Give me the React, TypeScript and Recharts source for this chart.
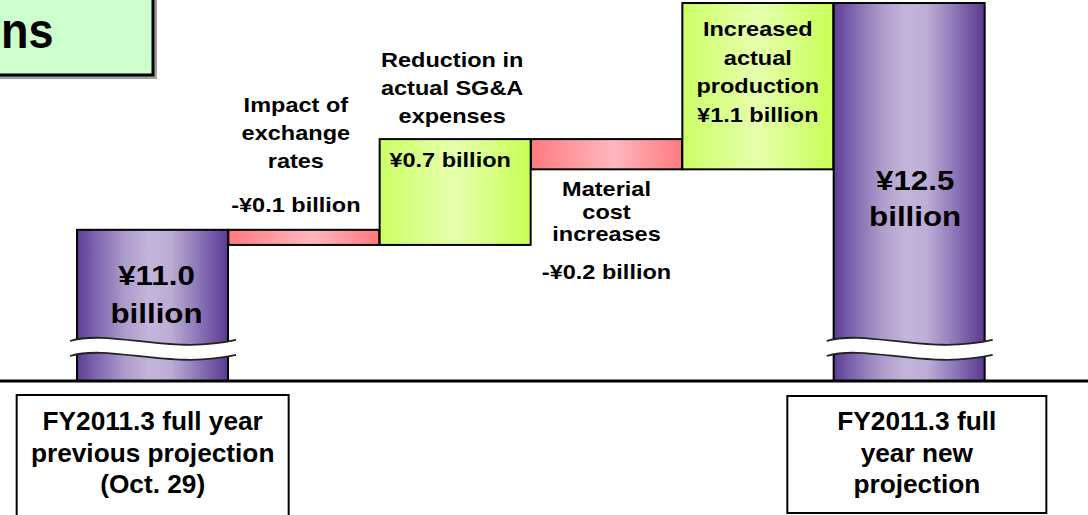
import React from 'react';
import { BarChart, Bar, XAxis, YAxis } from 'recharts';

// ---------- data ----------
const categories = ['prev', 'fx', 'sga', 'material', 'production', 'new'];
const changes = [11.0, -0.1, 0.7, -0.2, 1.1, 12.5];
const isTotal = [true, false, false, false, false, true];
const insideLabels: string[][] = [
  ['¥11.0', 'billion'],
  [],
  ['¥0.7 billion'],
  [],
  ['Increased', 'actual', 'production', '¥1.1 billion'],
  ['¥12.5', 'billion'],
];
const factorNames: string[][] = [
  [],
  ['Impact of', 'exchange', 'rates'],
  ['Reduction in', 'actual SG&A', 'expenses'],
  ['Material', 'cost', 'increases'],
  [],
  [],
];
const factorValues = ['', '-¥0.1 billion', '', '-¥0.2 billion', '', ''];
const tickLabels: string[][] = [
  ['FY2011.3 full year', 'previous projection', '(Oct. 29)'],
  [],
  [],
  [],
  [],
  ['FY2011.3 full', 'year new', 'projection'],
];
const titleTail = 'ns';
const AXIS_MIN = 10;
const AXIS_MAX = 12.52;
const BREAK_AT = 10.215;

type Row = { key: string; idx: number; range: [number, number] };
const rows: Row[] = (() => {
  let running = 0;
  return categories.map((key, i) => {
    let low: number;
    let high: number;
    if (isTotal[i]) {
      low = AXIS_MIN;
      high = changes[i];
      running = changes[i];
    } else {
      const start = running;
      const end = Math.round((running + changes[i]) * 100) / 100;
      low = Math.min(start, end);
      high = Math.max(start, end);
      running = end;
    }
    return { key, idx: i, range: [low, high] as [number, number] };
  });
})();

// ---------- styles ----------
const FONT = '"Liberation Sans", Arial, Helvetica, sans-serif';

const purpleStops: [number, string][] = [
  [0, '#5d3d95'], [0.12, '#7c64ae'], [0.32, '#ae9ccb'], [0.48, '#c3b5da'],
  [0.62, '#bcadd5'], [0.8, '#8d77b8'], [1, '#5a3a92'],
];
const pinkStops: [number, string][] = [[0, '#ff7a7e'], [0.55, '#ffb7bf'], [1, '#ff7a7e']];
const greenStops: [number, string][] = [[0, '#ccff66'], [0.5, '#e6ffad'], [1, '#c8ff55']];

type InsideStyle = { dy: number; lh: number; dx: number; size: number; sx: number } | null;
const insideStyle: InsideStyle[] = [
  { dy: 55, lh: 38, dx: 4, size: 27, sx: 1.16 },
  null,
  { dy: 28, lh: 28, dx: -5, size: 21, sx: 1.12 },
  null,
  { dy: 33, lh: 28.7, dx: 0, size: 21, sx: 1.12 },
  { dy: 187, lh: 36, dx: 6, size: 27, sx: 1.16 },
];
type FactorStyle = { side: 'top' | 'bottom'; dy: number; lh: number; dx: number; valueDy: number } | null;
const factorStyle: FactorStyle[] = [
  null,
  { side: 'top', dy: -118, lh: 28, dx: -8, valueDy: -18 },
  { side: 'top', dy: -72, lh: 28, dx: -3, valueDy: 0 },
  { side: 'bottom', dy: 27, lh: 22.5, dx: 0, valueDy: 110 },
  null,
  null,
];
const tickBoxStyle = [
  { dx: 0, w: 272, top: 14, h: 130 },
  null, null, null, null,
  { dx: 7.5, w: 259, top: 15, h: 117 },
];

function TextLines({ cx, y, lh, lines, size, sx }: { cx: number; y: number; lh: number; lines: string[]; size: number; sx: number }) {
  return (
    <g>
      {lines.map((t, i) => (
        <text
          key={i}
          transform={`translate(${cx},${y + i * lh}) scale(${sx},1)`}
          x={0}
          y={0}
          textAnchor="middle"
          fontFamily={FONT}
          fontWeight="bold"
          fontSize={size}
          fill="#000"
        >
          {t}
        </text>
      ))}
    </g>
  );
}

const WaterfallShape = (props: any) => {
  const { x, y, width, height, payload } = props;
  const idx: number = payload.idx;
  const [low, high] = payload.range as [number, number];
  const top = Math.min(y, y + height);
  const h = Math.abs(height);
  const bottom = top + h;
  const w = width;
  const cx = x + w / 2;
  const gid = `wf-grad-${idx}`;
  const stops = isTotal[idx] ? purpleStops : changes[idx] < 0 ? pinkStops : greenStops;

  let wave = null;
  if (isTotal[idx] && high > low) {
    const ppu = h / (high - low);
    const c = bottom - (BREAK_AT - low) * ppu;
    const pts = (o: number) => ({
      p0: [x - 7, c - 7.5 + o],
      p1: [x + 0.22 * w, c - 19.5 + o],
      p2: [x + 0.62 * w, c + 6.5 + o],
      p3: [x + w + 8, c - 8.5 + o],
    });
    const t = pts(0);
    const b = pts(15);
    const fill = `M${t.p0} C${t.p1} ${t.p2} ${t.p3} L${b.p3} C${b.p2} ${b.p1} ${b.p0} Z`;
    const topLine = `M${t.p0} C${t.p1} ${t.p2} ${t.p3}`;
    const botLine = `M${b.p0} C${b.p1} ${b.p2} ${b.p3}`;
    wave = (
      <g>
        <path d={fill} fill="#fff" stroke="none" />
        <path d={topLine} fill="none" stroke="#222" strokeWidth={1.8} />
        <path d={botLine} fill="none" stroke="#222" strokeWidth={1.8} />
      </g>
    );
  }

  const ins = insideStyle[idx];
  const fac = factorStyle[idx];
  return (
    <g>
      <defs>
        <linearGradient id={gid} x1="0" y1="0" x2="1" y2="0">
          {stops.map(([o, col], i) => (
            <stop key={i} offset={o} stopColor={col} />
          ))}
        </linearGradient>
      </defs>
      <rect x={x} y={top} width={w} height={h} fill={`url(#${gid})`} stroke="#000" strokeWidth={2} />
      {wave}
      {ins && insideLabels[idx].length > 0 && (
        <TextLines cx={cx + ins.dx} y={top + ins.dy} lh={ins.lh} lines={insideLabels[idx]} size={ins.size} sx={ins.sx} />
      )}
      {fac && (
        <TextLines
          cx={cx + fac.dx}
          y={(fac.side === 'top' ? top : bottom) + fac.dy}
          lh={fac.lh}
          lines={factorNames[idx]}
          size={21}
          sx={1.12}
        />
      )}
      {fac && factorValues[idx] && (
        <TextLines
          cx={cx + fac.dx}
          y={(fac.side === 'top' ? top : bottom) + fac.valueDy}
          lh={0}
          lines={[factorValues[idx]]}
          size={21}
          sx={1.12}
        />
      )}
    </g>
  );
};

const BoxTick = (props: any) => {
  const { x, y, payload } = props;
  const idx = categories.indexOf(payload.value);
  const lines = tickLabels[idx] || [];
  const st = tickBoxStyle[idx];
  if (!lines.length || !st) return null;
  const cx = x + st.dx;
  return (
    <g>
      <rect x={cx - st.w / 2} y={y + st.top} width={st.w} height={st.h} fill="#fff" stroke="#000" strokeWidth={2} />
      <TextLines cx={cx} y={y + 49} lh={31.5} lines={lines} size={25} sx={1.05} />
    </g>
  );
};

export default function App() {
  return (
    <div style={{ position: 'absolute', left: 0, top: 0, width: 1088, height: 515, overflow: 'hidden', background: '#fff' }}>
      <BarChart
        width={1088}
        height={515}
        data={rows}
        margin={{ top: 0, right: 0, bottom: 0, left: 0 }}
        barCategoryGap={0}
        barGap={0}
      >
        <XAxis
          dataKey="key"
          type="category"
          height={134}
          padding={{ left: 77, right: 103 }}
          axisLine={{ stroke: '#000', strokeWidth: 3 }}
          tickLine={false}
          tickSize={0}
          tickMargin={0}
          interval={0}
          tick={<BoxTick />}
        />
        <YAxis hide type="number" domain={[AXIS_MIN, AXIS_MAX]} allowDataOverflow />
        <Bar dataKey="range" isAnimationActive={false} shape={<WaterfallShape />} />
      </BarChart>
      <svg
        width={1088}
        height={515}
        style={{ position: 'absolute', left: 0, top: 0, pointerEvents: 'none' }}
      >
        <rect x={-3} y={-3} width={158} height={80} fill="#a0a0a0" transform="translate(2,2)" />
        <rect x={-3} y={-3} width={156} height={78} fill="#ccffcc" stroke="#000" strokeWidth={3} />
        <text
          transform="translate(1,48) scale(0.9,1)"
          x={0}
          y={0}
          textAnchor="start"
          fontFamily={FONT}
          fontWeight="bold"
          fontSize={50}
          fill="#000"
        >
          {titleTail}
        </text>
      </svg>
    </div>
  );
}
